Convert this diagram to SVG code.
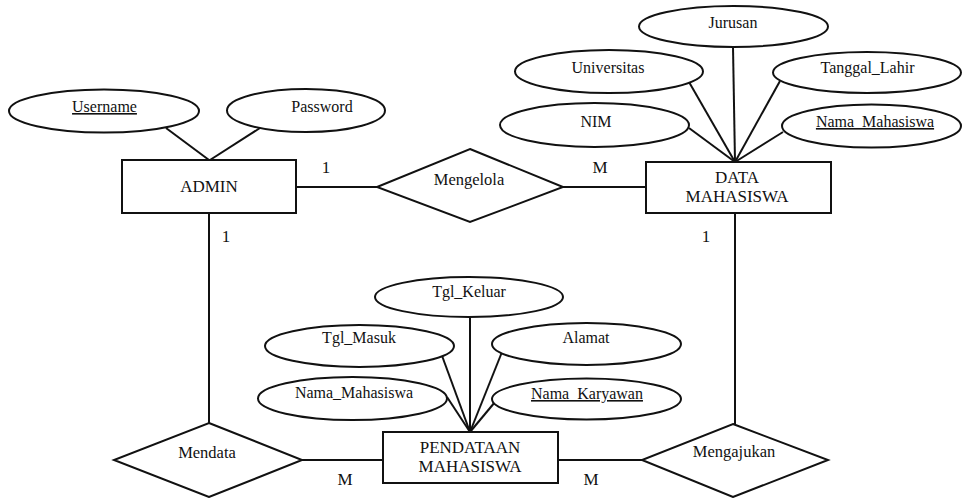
<svg xmlns="http://www.w3.org/2000/svg" width="962" height="498" viewBox="0 0 962 498" font-family="Liberation Serif, serif">
<style>
.s{fill:#fff;stroke:#111;stroke-width:2}
.l{stroke:#111;stroke-width:2;fill:none}
text{fill:#111;text-anchor:middle}
.a{font-size:16px}
.e{font-size:17px}
.r{font-size:16.5px}
.u{text-decoration:underline}
</style>
<rect width="962" height="498" fill="#fff"/>
<g id="connectors" class="l">
<line x1="166" y1="128" x2="209" y2="160"/>
<line x1="260" y1="128" x2="210" y2="160"/>
<line x1="296" y1="187" x2="377" y2="187"/>
<line x1="563" y1="187" x2="646" y2="187"/>
<line x1="733" y1="47" x2="735" y2="162"/>
<line x1="689" y1="82" x2="735" y2="162"/>
<line x1="780" y1="81" x2="735" y2="162"/>
<line x1="689" y1="128" x2="735" y2="162"/>
<line x1="783" y1="132" x2="735" y2="162"/>
<line x1="209" y1="213" x2="209" y2="423"/>
<line x1="735" y1="213" x2="735" y2="424"/>
<line x1="302" y1="460" x2="383" y2="460"/>
<line x1="558" y1="460" x2="642" y2="460"/>
<line x1="470" y1="317" x2="470" y2="432"/>
<line x1="441" y1="353" x2="470" y2="432"/>
<line x1="502" y1="352" x2="470" y2="432"/>
<line x1="447" y1="397" x2="470" y2="432"/>
<line x1="495" y1="402" x2="470" y2="432"/>
</g>
<g id="admin"><rect class="s" x="122" y="160" width="174" height="53"/><text class="e" x="209" y="192">ADMIN</text></g>
<g id="data-mahasiswa"><rect class="s" x="646" y="162" width="185" height="51"/><text class="e" x="737" y="183">DATA</text><text class="e" x="737" y="202">MAHASISWA</text></g>
<g id="pendataan-mahasiswa"><rect class="s" x="383" y="432" width="175" height="51"/><text class="e" x="470" y="453">PENDATAAN</text><text class="e" x="470" y="472">MAHASISWA</text></g>
<g id="mengelola"><polygon class="s" points="470,149 563,187 470,222 377,187"/><text class="r" x="469" y="185">Mengelola</text></g>
<g id="mendata"><polygon class="s" points="209,423 302,460 209,497 114,460"/><text class="r" x="207" y="458">Mendata</text></g>
<g id="mengajukan"><polygon class="s" points="733,424 828,460 733,497 642,460"/><text class="r" x="734" y="457">Mengajukan</text></g>
<g id="attr-username"><ellipse class="s" cx="104" cy="111" rx="95" ry="21.5"/><text class="a u" x="104.5" y="112">Username</text></g>
<g id="attr-password"><ellipse class="s" cx="306" cy="110.5" rx="79" ry="21.5"/><text class="a" x="322" y="112">Password</text></g>
<g id="attr-jurusan"><ellipse class="s" cx="733.5" cy="26.5" rx="94.5" ry="20.5"/><text class="a" x="733" y="28">Jurusan</text></g>
<g id="attr-universitas"><ellipse class="s" cx="609" cy="71.5" rx="94" ry="21.5"/><text class="a" x="608" y="73">Universitas</text></g>
<g id="attr-tanggal-lahir"><ellipse class="s" cx="867" cy="72.5" rx="94" ry="20.5"/><text class="a" x="867.5" y="73">Tanggal_Lahir</text></g>
<g id="attr-nim"><ellipse class="s" cx="594.5" cy="125" rx="94.5" ry="22"/><text class="a" x="596" y="127">NIM</text></g>
<g id="attr-nama-mahasiswa-1"><ellipse class="s" cx="871.5" cy="126" rx="89.5" ry="21.5"/><text class="a u" x="875" y="127">Nama_Mahasiswa</text></g>
<g id="attr-tgl-keluar"><ellipse class="s" cx="469" cy="297" rx="94" ry="20"/><text class="a" x="469" y="297">Tgl_Keluar</text></g>
<g id="attr-tgl-masuk"><ellipse class="s" cx="359.5" cy="346" rx="94.5" ry="21"/><text class="a" x="359" y="343">Tgl_Masuk</text></g>
<g id="attr-alamat"><ellipse class="s" cx="586.5" cy="344" rx="94.5" ry="21"/><text class="a" x="586" y="343">Alamat</text></g>
<g id="attr-nama-mahasiswa-2"><ellipse class="s" cx="352.5" cy="398.5" rx="94.5" ry="21.5"/><text class="a" x="354" y="398">Nama_Mahasiswa</text></g>
<g id="attr-nama-karyawan"><ellipse class="s" cx="586.5" cy="399" rx="94.5" ry="20.5"/><text class="a u" x="587" y="399">Nama_Karyawan</text></g>
<g id="cardinality" class="e">
<text x="326" y="173">1</text>
<text x="600" y="173">M</text>
<text x="226" y="242">1</text>
<text x="706" y="242">1</text>
<text x="345" y="485">M</text>
<text x="591" y="485">M</text>
</g>
</svg>
